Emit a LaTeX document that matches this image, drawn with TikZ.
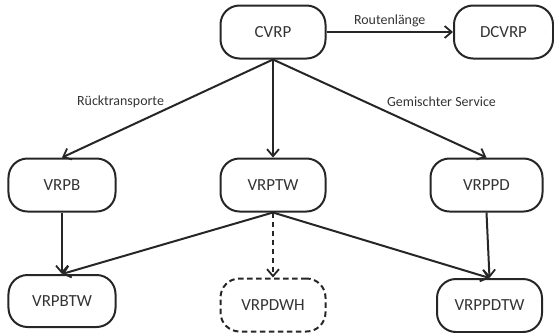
\documentclass[tikz,border=0pt]{standalone}
\usepackage{fontspec}
\setmainfont{Carlito}
\usepackage{tikz}
\usetikzlibrary{arrows.meta,%
                shapes,positioning}

\tikzset{
  prob/.style={draw=black!85, line width=2bp, rounded corners=19bp,
    minimum width=105bp, minimum height=53bp, text=black!80,
    font=\fontsize{17}{20}\selectfont},
  lbl/.style={text=black!80, font=\fontsize{14}{16}\selectfont},
  link/.style={draw=black!85, line width=2bp,
    -{Straight Barb[length=7bp,width=12bp,line width=1.8bp]}},
  optional/.style={dash pattern=on 5.5bp off 3.5bp}
}

\begin{document}
\begin{tikzpicture}[x=1bp,y=-1bp]
\useasboundingbox (0,0) rectangle (554,332);
\node[prob] (cvrp) at (273,32) {CVRP};
\node[prob, minimum width=99bp] (dcvrp) at (503.5,32) {DCVRP};
\node[prob, minimum width=107bp] (vrpb) at (62,185) {VRPB};
\node[prob] (vrptw) at (273,185) {VRPTW};
\node[prob, minimum width=112bp] (vrppd) at (486.5,185) {VRPPD};
\node[prob, minimum width=107bp, minimum height=52bp] (vrpbtw) at (62,301) {VRPBTW};
\node[prob, optional] (vrpdwh) at (273,305) {VRPDWH};
\node[prob] (vrppdtw) at (489.5,305.5) {VRPPDTW};
\draw[link] (cvrp) -- node[lbl, above=1bp] {Routenlänge} (dcvrp);
\draw[link] (cvrp.south) -- node[lbl, pos=.43, left=14bp] {Rücktransporte} (vrpb.north);
\draw[link] (cvrp.south) -- (vrptw.north);
\draw[link] (cvrp.south) -- node[lbl, pos=.43, right=18bp] {Gemischter Service} (vrppd.north);
\draw[link] (vrpb) -- (vrpbtw);
\draw[link] (vrptw.south) -- (vrpbtw.north);
\draw[link, optional] (vrptw.south) -- (vrpdwh.north);
\draw[link] (vrptw.south) -- (vrppdtw.north);
\draw[link] (vrppd.south) -- (vrppdtw.north);
\end{tikzpicture}
\end{document}
